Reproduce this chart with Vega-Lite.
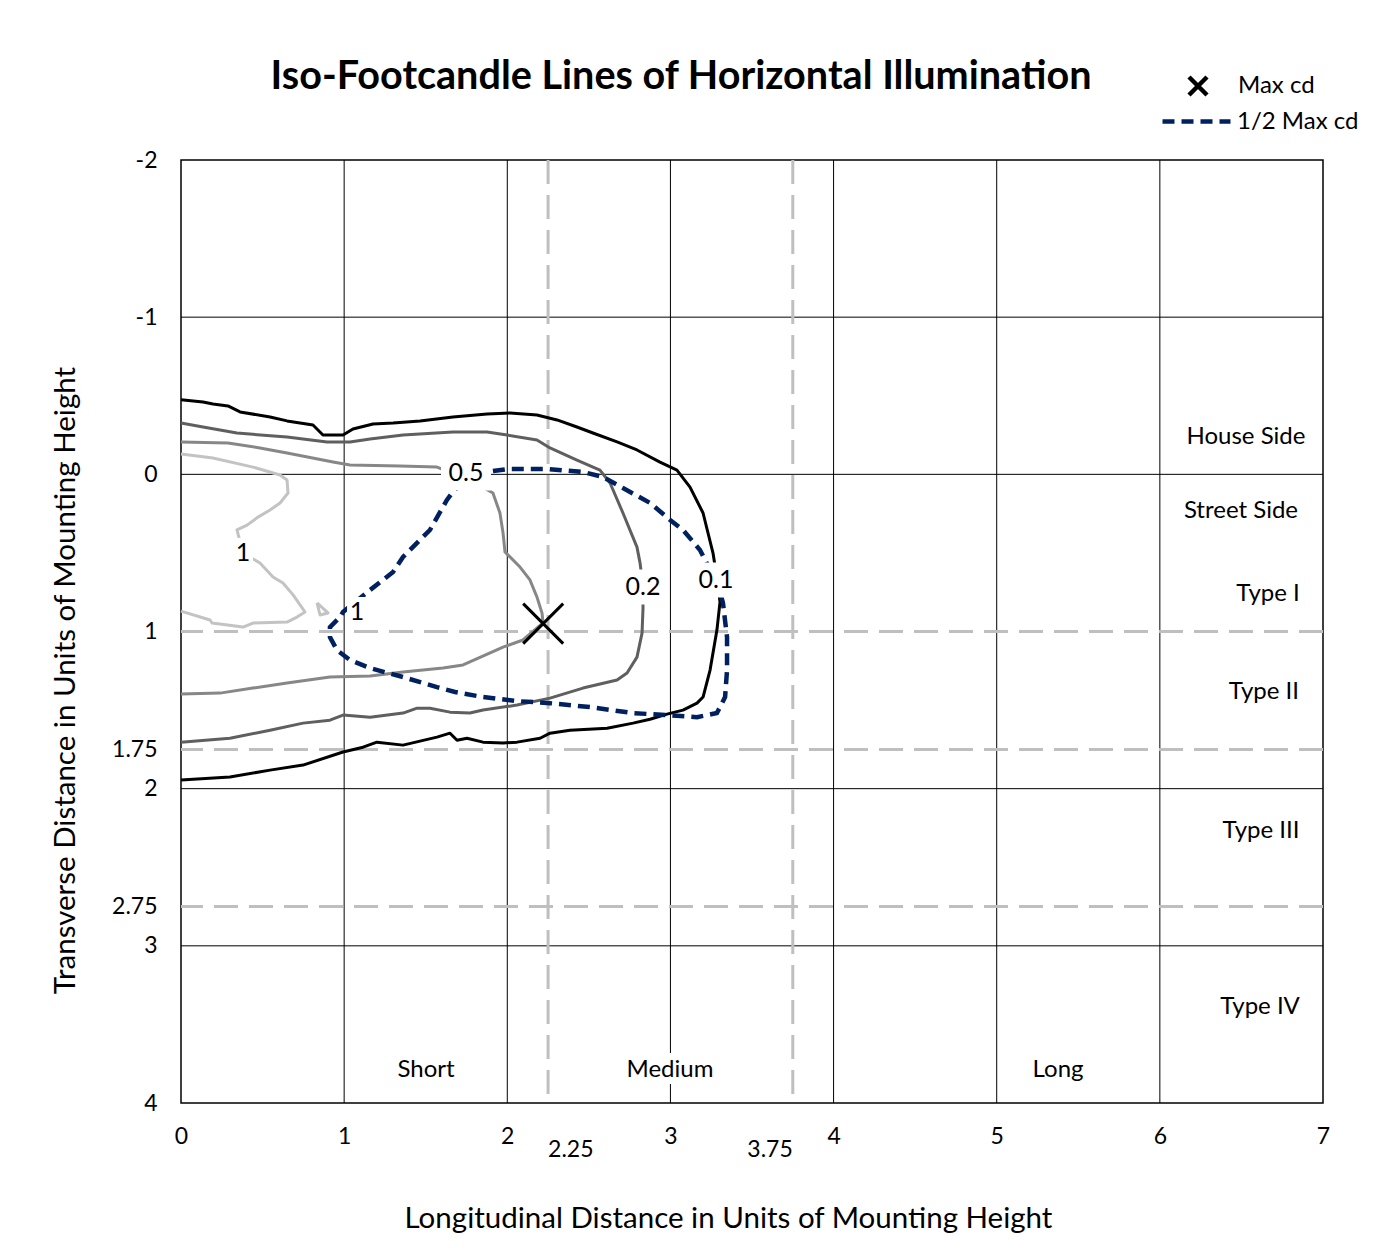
{
  "$schema": "https://vega.github.io/schema/vega-lite/v6.json",
  "width": 1142,
  "height": 943,
  "autosize": {"type": "none"},
  "padding": {"left": 181, "top": 160, "right": 73, "bottom": 151},
  "background": "white",
  "config": {
    "font": "Lato",
    "view": {"stroke": "black", "strokeWidth": 1.5},
    "axis": {"labelFont": "Lato", "titleFont": "Lato", "labelColor": "black", "titleColor": "black"}
  },
  "title": {
    "text": "Iso-Footcandle Lines of Horizontal Illumination",
    "fontSize": 39.6,
    "fontWeight": "bold",
    "font": "Lato",
    "color": "black",
    "anchor": "middle",
    "frame": "group",
    "dx": -71,
    "baseline": "alphabetic",
    "offset": -55
  },
  "datasets": {
    "gridv": [{"x": 1}, {"x": 2}, {"x": 3}, {"x": 4}, {"x": 5}, {"x": 6}],
    "gridh": [{"y": -1}, {"y": 0}, {"y": 2}, {"y": 3}],
    "refv": [{"x": 2.25}, {"x": 3.75}],
    "refh": [{"y": 1}, {"y": 1.75}, {"y": 2.75}],
    "contours": [
      {"level": "0.1", "i": 1, "x": 0, "y": -0.474},
      {"level": "0.1", "i": 2, "x": 0.135, "y": -0.46},
      {"level": "0.1", "i": 3, "x": 0.196, "y": -0.447},
      {"level": "0.1", "i": 4, "x": 0.288, "y": -0.435},
      {"level": "0.1", "i": 5, "x": 0.362, "y": -0.397},
      {"level": "0.1", "i": 6, "x": 0.546, "y": -0.365},
      {"level": "0.1", "i": 7, "x": 0.65, "y": -0.34},
      {"level": "0.1", "i": 8, "x": 0.809, "y": -0.314},
      {"level": "0.1", "i": 9, "x": 0.87, "y": -0.25},
      {"level": "0.1", "i": 10, "x": 0.993, "y": -0.25},
      {"level": "0.1", "i": 11, "x": 1.054, "y": -0.288},
      {"level": "0.1", "i": 12, "x": 1.177, "y": -0.32},
      {"level": "0.1", "i": 13, "x": 1.3, "y": -0.326},
      {"level": "0.1", "i": 14, "x": 1.465, "y": -0.339},
      {"level": "0.1", "i": 15, "x": 1.667, "y": -0.365},
      {"level": "0.1", "i": 16, "x": 1.876, "y": -0.384},
      {"level": "0.1", "i": 17, "x": 2.017, "y": -0.39},
      {"level": "0.1", "i": 18, "x": 2.182, "y": -0.378},
      {"level": "0.1", "i": 19, "x": 2.305, "y": -0.346},
      {"level": "0.1", "i": 20, "x": 2.427, "y": -0.301},
      {"level": "0.1", "i": 21, "x": 2.525, "y": -0.263},
      {"level": "0.1", "i": 22, "x": 2.673, "y": -0.206},
      {"level": "0.1", "i": 23, "x": 2.795, "y": -0.155},
      {"level": "0.1", "i": 24, "x": 2.936, "y": -0.078},
      {"level": "0.1", "i": 25, "x": 3.04, "y": -0.027},
      {"level": "0.1", "i": 26, "x": 3.12, "y": 0.081},
      {"level": "0.1", "i": 27, "x": 3.2, "y": 0.246},
      {"level": "0.1", "i": 28, "x": 3.261, "y": 0.501},
      {"level": "0.1", "i": 29, "x": 3.285, "y": 0.66},
      {"level": "0.1", "i": 30, "x": 3.304, "y": 0.812},
      {"level": "0.1", "i": 31, "x": 3.285, "y": 0.991},
      {"level": "0.1", "i": 32, "x": 3.243, "y": 1.245},
      {"level": "0.1", "i": 33, "x": 3.2, "y": 1.417},
      {"level": "0.1", "i": 34, "x": 3.163, "y": 1.456},
      {"level": "0.1", "i": 35, "x": 3.077, "y": 1.5},
      {"level": "0.1", "i": 36, "x": 2.979, "y": 1.526},
      {"level": "0.1", "i": 37, "x": 2.875, "y": 1.558},
      {"level": "0.1", "i": 38, "x": 2.771, "y": 1.583},
      {"level": "0.1", "i": 39, "x": 2.612, "y": 1.615},
      {"level": "0.1", "i": 40, "x": 2.384, "y": 1.628},
      {"level": "0.1", "i": 41, "x": 2.262, "y": 1.647},
      {"level": "0.1", "i": 42, "x": 2.201, "y": 1.679},
      {"level": "0.1", "i": 43, "x": 2.06, "y": 1.704},
      {"level": "0.1", "i": 44, "x": 1.974, "y": 1.71},
      {"level": "0.1", "i": 45, "x": 1.851, "y": 1.704},
      {"level": "0.1", "i": 46, "x": 1.753, "y": 1.679},
      {"level": "0.1", "i": 47, "x": 1.692, "y": 1.692},
      {"level": "0.1", "i": 48, "x": 1.649, "y": 1.647},
      {"level": "0.1", "i": 49, "x": 1.569, "y": 1.672},
      {"level": "0.1", "i": 50, "x": 1.361, "y": 1.723},
      {"level": "0.1", "i": 51, "x": 1.201, "y": 1.704},
      {"level": "0.1", "i": 52, "x": 1.116, "y": 1.736},
      {"level": "0.1", "i": 53, "x": 0.993, "y": 1.767},
      {"level": "0.1", "i": 54, "x": 0.748, "y": 1.85},
      {"level": "0.1", "i": 55, "x": 0.546, "y": 1.882},
      {"level": "0.1", "i": 56, "x": 0.3, "y": 1.926},
      {"level": "0.1", "i": 57, "x": 0, "y": 1.945},
      {"level": "0.2", "i": 1, "x": 0, "y": -0.327},
      {"level": "0.2", "i": 2, "x": 0.135, "y": -0.301},
      {"level": "0.2", "i": 3, "x": 0.343, "y": -0.263},
      {"level": "0.2", "i": 4, "x": 0.65, "y": -0.237},
      {"level": "0.2", "i": 5, "x": 0.895, "y": -0.206},
      {"level": "0.2", "i": 6, "x": 1.036, "y": -0.206},
      {"level": "0.2", "i": 7, "x": 1.159, "y": -0.225},
      {"level": "0.2", "i": 8, "x": 1.361, "y": -0.25},
      {"level": "0.2", "i": 9, "x": 1.667, "y": -0.269},
      {"level": "0.2", "i": 10, "x": 1.876, "y": -0.269},
      {"level": "0.2", "i": 11, "x": 1.999, "y": -0.25},
      {"level": "0.2", "i": 12, "x": 2.182, "y": -0.218},
      {"level": "0.2", "i": 13, "x": 2.262, "y": -0.168},
      {"level": "0.2", "i": 14, "x": 2.427, "y": -0.091},
      {"level": "0.2", "i": 15, "x": 2.568, "y": -0.027},
      {"level": "0.2", "i": 16, "x": 2.63, "y": 0.055},
      {"level": "0.2", "i": 17, "x": 2.709, "y": 0.246},
      {"level": "0.2", "i": 18, "x": 2.795, "y": 0.463},
      {"level": "0.2", "i": 19, "x": 2.814, "y": 0.565},
      {"level": "0.2", "i": 20, "x": 2.83, "y": 0.7},
      {"level": "0.2", "i": 21, "x": 2.832, "y": 0.851},
      {"level": "0.2", "i": 22, "x": 2.826, "y": 1.01},
      {"level": "0.2", "i": 23, "x": 2.795, "y": 1.163},
      {"level": "0.2", "i": 24, "x": 2.734, "y": 1.264},
      {"level": "0.2", "i": 25, "x": 2.673, "y": 1.309},
      {"level": "0.2", "i": 26, "x": 2.464, "y": 1.36},
      {"level": "0.2", "i": 27, "x": 2.262, "y": 1.424},
      {"level": "0.2", "i": 28, "x": 2.06, "y": 1.468},
      {"level": "0.2", "i": 29, "x": 1.851, "y": 1.5},
      {"level": "0.2", "i": 30, "x": 1.771, "y": 1.519},
      {"level": "0.2", "i": 31, "x": 1.649, "y": 1.513},
      {"level": "0.2", "i": 32, "x": 1.526, "y": 1.488},
      {"level": "0.2", "i": 33, "x": 1.447, "y": 1.488},
      {"level": "0.2", "i": 34, "x": 1.361, "y": 1.519},
      {"level": "0.2", "i": 35, "x": 1.159, "y": 1.545},
      {"level": "0.2", "i": 36, "x": 0.993, "y": 1.532},
      {"level": "0.2", "i": 37, "x": 0.913, "y": 1.564},
      {"level": "0.2", "i": 38, "x": 0.748, "y": 1.583},
      {"level": "0.2", "i": 39, "x": 0.546, "y": 1.628},
      {"level": "0.2", "i": 40, "x": 0.3, "y": 1.679},
      {"level": "0.2", "i": 41, "x": 0, "y": 1.704},
      {"level": "0.5", "i": 1, "x": 0, "y": -0.206},
      {"level": "0.5", "i": 2, "x": 0.288, "y": -0.199},
      {"level": "0.5", "i": 3, "x": 0.484, "y": -0.168},
      {"level": "0.5", "i": 4, "x": 0.65, "y": -0.136},
      {"level": "0.5", "i": 5, "x": 0.932, "y": -0.078},
      {"level": "0.5", "i": 6, "x": 1.036, "y": -0.059},
      {"level": "0.5", "i": 7, "x": 1.342, "y": -0.053},
      {"level": "0.5", "i": 8, "x": 1.569, "y": -0.046},
      {"level": "0.5", "i": 9, "x": 1.771, "y": 0.036},
      {"level": "0.5", "i": 10, "x": 1.912, "y": 0.119},
      {"level": "0.5", "i": 11, "x": 1.955, "y": 0.246},
      {"level": "0.5", "i": 12, "x": 1.974, "y": 0.373},
      {"level": "0.5", "i": 13, "x": 1.986, "y": 0.494},
      {"level": "0.5", "i": 14, "x": 2.078, "y": 0.59},
      {"level": "0.5", "i": 15, "x": 2.139, "y": 0.672},
      {"level": "0.5", "i": 16, "x": 2.182, "y": 0.781},
      {"level": "0.5", "i": 17, "x": 2.213, "y": 0.883},
      {"level": "0.5", "i": 18, "x": 2.219, "y": 0.946},
      {"level": "0.5", "i": 19, "x": 2.096, "y": 1.054},
      {"level": "0.5", "i": 20, "x": 1.974, "y": 1.099},
      {"level": "0.5", "i": 21, "x": 1.729, "y": 1.213},
      {"level": "0.5", "i": 22, "x": 1.606, "y": 1.232},
      {"level": "0.5", "i": 23, "x": 1.361, "y": 1.258},
      {"level": "0.5", "i": 24, "x": 1.159, "y": 1.283},
      {"level": "0.5", "i": 25, "x": 0.913, "y": 1.29},
      {"level": "0.5", "i": 26, "x": 0.65, "y": 1.328},
      {"level": "0.5", "i": 27, "x": 0.441, "y": 1.36},
      {"level": "0.5", "i": 28, "x": 0.239, "y": 1.392},
      {"level": "0.5", "i": 29, "x": 0, "y": 1.398},
      {"level": "1", "i": 1, "x": 0, "y": -0.129},
      {"level": "1", "i": 2, "x": 0.196, "y": -0.104},
      {"level": "1", "i": 3, "x": 0.441, "y": -0.046},
      {"level": "1", "i": 4, "x": 0.607, "y": 0.004},
      {"level": "1", "i": 5, "x": 0.65, "y": 0.036},
      {"level": "1", "i": 6, "x": 0.656, "y": 0.119},
      {"level": "1", "i": 7, "x": 0.607, "y": 0.182},
      {"level": "1", "i": 8, "x": 0.546, "y": 0.227},
      {"level": "1", "i": 9, "x": 0.472, "y": 0.272},
      {"level": "1", "i": 10, "x": 0.405, "y": 0.323},
      {"level": "1", "i": 11, "x": 0.343, "y": 0.354},
      {"level": "1", "i": 12, "x": 0.38, "y": 0.5},
      {"level": "1", "i": 13, "x": 0.484, "y": 0.564},
      {"level": "1", "i": 14, "x": 0.564, "y": 0.653},
      {"level": "1", "i": 15, "x": 0.625, "y": 0.691},
      {"level": "1", "i": 16, "x": 0.687, "y": 0.767},
      {"level": "1", "i": 17, "x": 0.76, "y": 0.876},
      {"level": "1", "i": 18, "x": 0.711, "y": 0.908},
      {"level": "1", "i": 19, "x": 0.65, "y": 0.94},
      {"level": "1", "i": 20, "x": 0.441, "y": 0.946},
      {"level": "1", "i": 21, "x": 0.38, "y": 0.972},
      {"level": "1", "i": 22, "x": 0.19, "y": 0.946},
      {"level": "1", "i": 23, "x": 0.178, "y": 0.927},
      {"level": "1", "i": 24, "x": 0, "y": 0.87},
      {"level": "1b", "i": 1, "x": 0.834, "y": 0.818},
      {"level": "1b", "i": 2, "x": 0.901, "y": 0.882},
      {"level": "1b", "i": 3, "x": 0.852, "y": 0.895},
      {"level": "1b", "i": 4, "x": 0.834, "y": 0.818}
    ],
    "half": [
      {"i": 1, "x": 1.912, "y": -0.021},
      {"i": 2, "x": 2.004, "y": -0.034},
      {"i": 3, "x": 2.249, "y": -0.034},
      {"i": 4, "x": 2.464, "y": -0.015},
      {"i": 5, "x": 2.587, "y": 0.017},
      {"i": 6, "x": 2.709, "y": 0.087},
      {"i": 7, "x": 2.875, "y": 0.182},
      {"i": 8, "x": 2.998, "y": 0.29},
      {"i": 9, "x": 3.077, "y": 0.354},
      {"i": 10, "x": 3.181, "y": 0.481},
      {"i": 11, "x": 3.292, "y": 0.704},
      {"i": 12, "x": 3.322, "y": 0.819},
      {"i": 13, "x": 3.347, "y": 1.036},
      {"i": 14, "x": 3.347, "y": 1.245},
      {"i": 15, "x": 3.335, "y": 1.417},
      {"i": 16, "x": 3.285, "y": 1.519},
      {"i": 17, "x": 3.163, "y": 1.545},
      {"i": 18, "x": 2.979, "y": 1.532},
      {"i": 19, "x": 2.771, "y": 1.519},
      {"i": 20, "x": 2.507, "y": 1.481},
      {"i": 21, "x": 2.262, "y": 1.456},
      {"i": 22, "x": 2.06, "y": 1.443},
      {"i": 23, "x": 1.851, "y": 1.417},
      {"i": 24, "x": 1.68, "y": 1.385},
      {"i": 25, "x": 1.569, "y": 1.354},
      {"i": 26, "x": 1.361, "y": 1.29},
      {"i": 27, "x": 1.159, "y": 1.233},
      {"i": 28, "x": 1.036, "y": 1.182},
      {"i": 29, "x": 0.956, "y": 1.118},
      {"i": 30, "x": 0.913, "y": 1.036},
      {"i": 31, "x": 0.913, "y": 0.972},
      {"i": 32, "x": 0.975, "y": 0.908},
      {"i": 33, "x": 0.993, "y": 0.876},
      {"i": 34, "x": 1.159, "y": 0.736},
      {"i": 35, "x": 1.3, "y": 0.621},
      {"i": 36, "x": 1.361, "y": 0.526},
      {"i": 37, "x": 1.526, "y": 0.354},
      {"i": 38, "x": 1.63, "y": 0.163},
      {"i": 39, "x": 1.661, "y": 0.119},
      {"i": 40, "x": 1.771, "y": 0.0}
    ],
    "maxpt": [{"x": 2.22, "y": 0.95}],
    "clabels": [
      {"text": "0.5", "x": 1.747, "y": -0.009},
      {"text": "1", "x": 0.38, "y": 0.5},
      {"text": "1", "x": 1.079, "y": 0.876},
      {"text": "0.2", "x": 2.832, "y": 0.717},
      {"text": "0.1", "x": 3.279, "y": 0.672}
    ],
    "regions": [
      {"text": "House Side", "x": 6.528, "y": -0.238},
      {"text": "Street Side", "x": 6.497, "y": 0.233},
      {"text": "Type I", "x": 6.663, "y": 0.761},
      {"text": "Type II", "x": 6.638, "y": 1.385},
      {"text": "Type III", "x": 6.62, "y": 2.269},
      {"text": "Type IV", "x": 6.614, "y": 3.389},
      {"text": "Short", "x": 1.502, "y": 3.79},
      {"text": "Medium", "x": 2.997, "y": 3.79},
      {"text": "Long", "x": 5.376, "y": 3.79}
    ]
  },
  "layer": [
    {
      "data": {"name": "gridv"},
      "mark": {"type": "rule", "color": "black", "strokeWidth": 1},
      "encoding": {
        "x": {
          "field": "x", "type": "quantitative",
          "scale": {"domain": [0, 7], "nice": false, "zero": false},
          "axis": {
            "values": [0, 1, 2, 3, 4, 5, 6, 7],
            "labelExpr": "'' + datum.value",
            "labelFlush": false, "labelOverlap": false,
            "grid": false, "ticks": false, "tickSize": 0, "domain": false,
            "labelFontSize": 23, "labelPadding": 22,
            "title": "Longitudinal Distance in Units of Mounting Height",
            "titleFontSize": 29.5, "titleFontWeight": "normal",
            "titleX": 547, "titleY": 115, "titleBaseline": "middle", "titleAlign": "center", "titleAnchor": null
          }
        }
      }
    },
    {
      "data": {"name": "gridh"},
      "mark": {"type": "rule", "color": "black", "strokeWidth": 1},
      "encoding": {
        "y": {
          "field": "y", "type": "quantitative",
          "scale": {"domain": [-2, 4], "nice": false, "zero": false, "reverse": true},
          "axis": {
            "values": [-2, -1, 0, 1, 1.75, 2, 2.75, 3, 4],
            "labelExpr": "'' + datum.value",
            "labelFlush": false, "labelOverlap": false,
            "grid": false, "ticks": false, "tickSize": 0, "domain": false,
            "labelFontSize": 23, "labelPadding": 24,
            "title": "Transverse Distance in Units of Mounting Height",
            "titleFontSize": 29.5, "titleFontWeight": "normal",
            "titleX": -116, "titleY": 520, "titleBaseline": "middle", "titleAlign": "center", "titleAngle": -90, "titleAnchor": null
          }
        }
      }
    },
    {
      "data": {"name": "refv"},
      "mark": {"type": "rule", "color": "#bfbfbf", "strokeWidth": 3, "strokeDash": [24, 11]},
      "encoding": {"x": {"field": "x", "type": "quantitative"}}
    },
    {
      "data": {"name": "refh"},
      "mark": {"type": "rule", "color": "#bfbfbf", "strokeWidth": 3, "strokeDash": [24, 11]},
      "encoding": {"y": {"field": "y", "type": "quantitative"}}
    },
    {
      "data": {"name": "contours"},
      "mark": {"type": "line", "strokeWidth": 3, "strokeJoin": "round"},
      "encoding": {
        "x": {"field": "x", "type": "quantitative"},
        "y": {"field": "y", "type": "quantitative"},
        "order": {"field": "i", "type": "quantitative"},
        "detail": {"field": "level", "type": "nominal"},
        "color": {
          "field": "level", "type": "nominal",
          "scale": {"domain": ["0.1", "0.2", "0.5", "1", "1b"], "range": ["#000000", "#5f5f5f", "#878787", "#c3c3c3", "#c3c3c3"]},
          "legend": null
        }
      }
    },
    {
      "data": {"name": "half"},
      "mark": {"type": "line", "color": "#002060", "strokeWidth": 4.5},
      "encoding": {
        "x": {"field": "x", "type": "quantitative"},
        "y": {"field": "y", "type": "quantitative"},
        "order": {"field": "i", "type": "quantitative"},
        "strokeDash": {
          "datum": "1/2 Max cd",
          "scale": {"domain": ["1/2 Max cd"], "range": [[12, 7]]},
          "legend": {
            "orient": "none", "legendX": 979, "legendY": -75, "title": null, "padding": 0,
            "symbolType": "stroke", "symbolSize": 4624, "symbolStrokeWidth": 4.5, "symbolStrokeColor": "#002060",
            "labelFontSize": 24, "labelFont": "Lato", "labelColor": "black", "labelOffset": 4
          }
        }
      }
    },
    {
      "data": {"name": "clabels"},
      "transform": [{"filter": "datum.text !== '1'"}],
      "mark": {"type": "point", "shape": "M-1,-0.7L1,-0.7L1,0.7L-1,0.7Z", "size": 2500, "filled": true, "fill": "white", "opacity": 1, "strokeWidth": 0},
      "encoding": {
        "x": {"field": "x", "type": "quantitative"},
        "y": {"field": "y", "type": "quantitative"}
      }
    },
    {
      "data": {"name": "clabels"},
      "transform": [{"filter": "datum.text === '1'"}],
      "mark": {"type": "point", "shape": "M-1,-1.5L1,-1.5L1,1.5L-1,1.5Z", "size": 400, "filled": true, "fill": "white", "opacity": 1, "strokeWidth": 0},
      "encoding": {
        "x": {"field": "x", "type": "quantitative"},
        "y": {"field": "y", "type": "quantitative"}
      }
    },
    {
      "data": {"name": "clabels"},
      "mark": {"type": "text", "fontSize": 25, "color": "black", "baseline": "middle", "align": "center"},
      "encoding": {
        "x": {"field": "x", "type": "quantitative"},
        "y": {"field": "y", "type": "quantitative"},
        "text": {"field": "text"}
      }
    },
    {
      "data": {"name": "regions"},
      "mark": {"type": "text", "fontSize": 24, "stroke": "white", "strokeWidth": 14, "strokeJoin": "round", "fill": "white", "baseline": "middle", "align": "center"},
      "encoding": {
        "x": {"field": "x", "type": "quantitative"},
        "y": {"field": "y", "type": "quantitative"},
        "text": {"field": "text"}
      }
    },
    {
      "data": {"name": "regions"},
      "mark": {"type": "text", "fontSize": 24, "color": "black", "baseline": "middle", "align": "center"},
      "encoding": {
        "x": {"field": "x", "type": "quantitative"},
        "y": {"field": "y", "type": "quantitative"},
        "text": {"field": "text"}
      }
    },
    {
      "data": {"values": [{"x": 2.25, "y": 4, "text": "2.25"}]},
      "mark": {"type": "text", "fontSize": 23, "color": "black", "baseline": "middle", "align": "left", "dy": 47},
      "encoding": {
        "x": {"field": "x", "type": "quantitative"},
        "y": {"field": "y", "type": "quantitative"},
        "text": {"field": "text"}
      }
    },
    {
      "data": {"values": [{"x": 3.75, "y": 4, "text": "3.75"}]},
      "mark": {"type": "text", "fontSize": 23, "color": "black", "baseline": "middle", "align": "right", "dy": 47},
      "encoding": {
        "x": {"field": "x", "type": "quantitative"},
        "y": {"field": "y", "type": "quantitative"},
        "text": {"field": "text"}
      }
    },
    {
      "data": {"name": "maxpt"},
      "mark": {"type": "point", "size": 1600, "stroke": "black", "strokeWidth": 3, "filled": false, "opacity": 1},
      "encoding": {
        "x": {"field": "x", "type": "quantitative"},
        "y": {"field": "y", "type": "quantitative"},
        "shape": {
          "datum": "Max cd",
          "scale": {"domain": ["Max cd"], "range": ["M-1,-1L1,1M1,-1L-1,1"]},
          "legend": {
            "orient": "none", "legendX": 1005, "legendY": -86, "title": null, "padding": 0,
            "symbolSize": 324, "symbolStrokeWidth": 4.5, "symbolStrokeColor": "black",
            "labelFontSize": 24, "labelFont": "Lato", "labelColor": "black", "labelOffset": 28
          }
        }
      }
    }
  ]
}
